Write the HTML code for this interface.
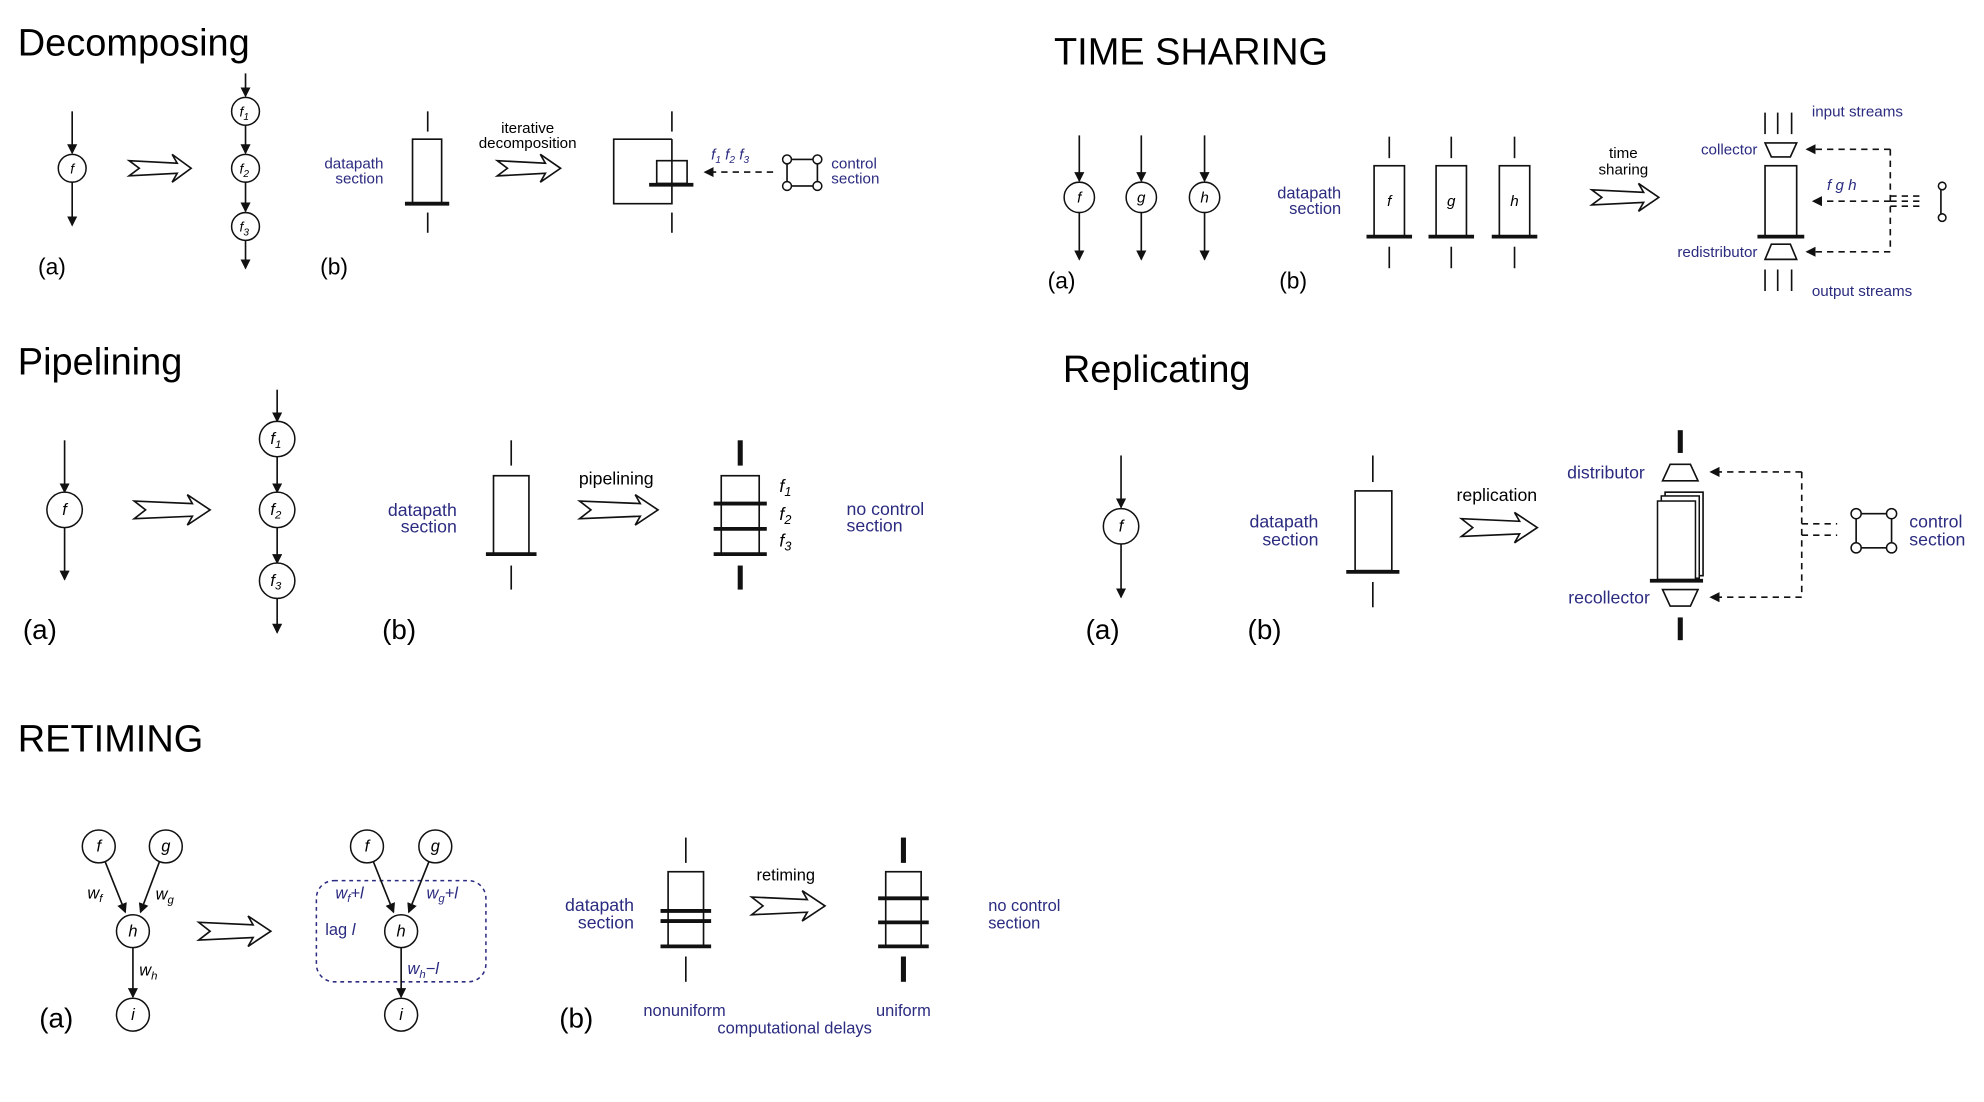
<!DOCTYPE html>
<html><head><meta charset="utf-8"><style>
html,body{margin:0;padding:0;background:#fff;}
svg{display:block;}
text{font-family:"Liberation Sans",sans-serif;}
.t{font-size:30px;fill:#000;}
.b{fill:#2b2b80;}
.l{stroke:#111;stroke-width:1.3;fill:none;}
.n{stroke:#111;stroke-width:1.2;fill:#fff;}
.bar{stroke:#111;stroke-width:3;}
.d{stroke:#111;stroke-width:1.3;stroke-dasharray:5,4;fill:none;}
.ho{stroke:#111;stroke-width:1.3;fill:#fff;}
.it{font-style:italic;}
</style></head><body>
<svg width="1984" height="1102" viewBox="0 0 1568 871" xmlns="http://www.w3.org/2000/svg">
<defs>
<marker id="a" markerWidth="8" markerHeight="8" refX="7" refY="4" orient="auto" markerUnits="userSpaceOnUse">
<path d="M0,0 L8,4 L0,8 Z" fill="#111"/></marker>
</defs>
<rect width="1568" height="871" fill="#fff"/>

<!-- ============ DECOMPOSING ============ -->
<text x="14" y="44" class="t">Decomposing</text>
<line x1="57" y1="88" x2="57" y2="121" class="l" marker-end="url(#a)"/>
<circle cx="57" cy="133" r="11" class="n"/><text x="57" y="137" font-size="11" text-anchor="middle" class="it">f</text>
<line x1="57" y1="144" x2="57" y2="178" class="l" marker-end="url(#a)"/>
<path class="ho" d="M102,127 L140,129 L136,122 L151,133 L136,144 L140,137 L102,139 L110,133 Z"/>
<line x1="194" y1="58" x2="194" y2="76" class="l" marker-end="url(#a)"/>
<circle cx="194" cy="88" r="11" class="n"/><text x="193" y="92" font-size="11" text-anchor="middle" class="it">f<tspan font-size="8" dy="3">1</tspan></text>
<line x1="194" y1="99" x2="194" y2="121" class="l" marker-end="url(#a)"/>
<circle cx="194" cy="133" r="11" class="n"/><text x="193" y="137" font-size="11" text-anchor="middle" class="it">f<tspan font-size="8" dy="3">2</tspan></text>
<line x1="194" y1="144" x2="194" y2="167" class="l" marker-end="url(#a)"/>
<circle cx="194" cy="179" r="11" class="n"/><text x="193" y="183" font-size="11" text-anchor="middle" class="it">f<tspan font-size="8" dy="3">3</tspan></text>
<line x1="194" y1="190" x2="194" y2="212" class="l" marker-end="url(#a)"/>
<text x="30" y="217" font-size="18">(a)</text>
<text x="253" y="217" font-size="18">(b)</text>
<text x="303" y="133" font-size="12" text-anchor="end" class="b">datapath</text>
<text x="303" y="145" font-size="12" text-anchor="end" class="b">section</text>
<line x1="338" y1="88" x2="338" y2="104" class="l" stroke-width="2"/>
<rect x="326" y="110" width="23" height="51" class="l"/>
<line x1="320" y1="161" x2="355" y2="161" class="bar"/>
<line x1="338" y1="168" x2="338" y2="184" class="l" stroke-width="2"/>
<text x="417" y="105" font-size="12" text-anchor="middle">iterative</text>
<text x="417" y="117" font-size="12" text-anchor="middle">decomposition</text>
<path class="ho" d="M393,127 L431,129 L427,122 L443,133 L427,144 L431,137 L393,139 L401,133 Z"/>
<line x1="531" y1="88" x2="531" y2="104" class="l" stroke-width="2"/>
<path d="M531,110 L485,110 L485,161 L531,161 L531,110" class="l"/>
<rect x="519" y="127" width="24" height="18" class="l"/>
<line x1="513" y1="146" x2="548" y2="146" class="bar"/>
<line x1="531" y1="168" x2="531" y2="184" class="l" stroke-width="2"/>
<text x="562" y="126" font-size="12" class="b it">f<tspan font-size="8" dy="3">1</tspan><tspan dy="-3"> f</tspan><tspan font-size="8" dy="3">2</tspan><tspan dy="-3"> f</tspan><tspan font-size="8" dy="3">3</tspan></text>
<line x1="611" y1="136" x2="557" y2="136" class="d" marker-end="url(#a)"/>
<rect x="622" y="126" width="24" height="21" class="l"/>
<circle cx="622" cy="126" r="3.5" class="n"/><circle cx="646" cy="126" r="3.5" class="n"/>
<circle cx="622" cy="147" r="3.5" class="n"/><circle cx="646" cy="147" r="3.5" class="n"/>
<text x="657" y="133" font-size="12" class="b">control</text>
<text x="657" y="145" font-size="12" class="b">section</text>

<!-- ============ TIME SHARING ============ -->
<text x="833" y="51" class="t">TIME SHARING</text>
<g>
<line x1="853" y1="107" x2="853" y2="143" class="l" marker-end="url(#a)"/>
<circle cx="853" cy="156" r="12" class="n"/><text x="853" y="160" font-size="12" text-anchor="middle" class="it">f</text>
<line x1="853" y1="168" x2="853" y2="205" class="l" marker-end="url(#a)"/>
<line x1="902" y1="107" x2="902" y2="143" class="l" marker-end="url(#a)"/>
<circle cx="902" cy="156" r="12" class="n"/><text x="902" y="160" font-size="12" text-anchor="middle" class="it">g</text>
<line x1="902" y1="168" x2="902" y2="205" class="l" marker-end="url(#a)"/>
<line x1="952" y1="107" x2="952" y2="143" class="l" marker-end="url(#a)"/>
<circle cx="952" cy="156" r="12" class="n"/><text x="952" y="160" font-size="12" text-anchor="middle" class="it">h</text>
<line x1="952" y1="168" x2="952" y2="205" class="l" marker-end="url(#a)"/>
</g>
<text x="828" y="228" font-size="18">(a)</text>
<text x="1011" y="228" font-size="18">(b)</text>
<text x="1060" y="157" font-size="13" text-anchor="end" class="b">datapath</text>
<text x="1060" y="169" font-size="13" text-anchor="end" class="b">section</text>
<g>
<line x1="1098" y1="108" x2="1098" y2="125" class="l"/><rect x="1086" y="131" width="24" height="56" class="l"/><line x1="1080" y1="187" x2="1116" y2="187" class="bar"/><line x1="1098" y1="195" x2="1098" y2="212" class="l"/><text x="1098" y="163" font-size="12" text-anchor="middle" class="it">f</text>
<line x1="1147" y1="108" x2="1147" y2="125" class="l"/><rect x="1135" y="131" width="24" height="56" class="l"/><line x1="1129" y1="187" x2="1165" y2="187" class="bar"/><line x1="1147" y1="195" x2="1147" y2="212" class="l"/><text x="1147" y="163" font-size="12" text-anchor="middle" class="it">g</text>
<line x1="1197" y1="108" x2="1197" y2="125" class="l"/><rect x="1185" y="131" width="24" height="56" class="l"/><line x1="1179" y1="187" x2="1215" y2="187" class="bar"/><line x1="1197" y1="195" x2="1197" y2="212" class="l"/><text x="1197" y="163" font-size="12" text-anchor="middle" class="it">h</text>
</g>
<text x="1283" y="125" font-size="12" text-anchor="middle">time</text>
<text x="1283" y="138" font-size="12" text-anchor="middle">sharing</text>
<path class="ho" d="M1258,150 L1299,152 L1295,145 L1311,156 L1295,167 L1299,160 L1258,162 L1266,156 Z"/>
<line x1="1395" y1="89" x2="1395" y2="106" class="l"/><line x1="1405" y1="89" x2="1405" y2="106" class="l"/><line x1="1416" y1="89" x2="1416" y2="106" class="l"/>
<path d="M1395,113 L1420,113 L1415,124 L1400,124 Z" class="l"/>
<rect x="1395" y="131" width="25" height="56" class="l"/>
<line x1="1389" y1="187" x2="1426" y2="187" class="bar"/>
<path d="M1400,193 L1415,193 L1420,205 L1395,205 Z" class="l"/>
<line x1="1395" y1="213" x2="1395" y2="230" class="l"/><line x1="1405" y1="213" x2="1405" y2="230" class="l"/><line x1="1416" y1="213" x2="1416" y2="230" class="l"/>
<text x="1432" y="92" font-size="12" class="b">input streams</text>
<text x="1389" y="122" font-size="12" text-anchor="end" class="b">collector</text>
<text x="1389" y="203" font-size="12" text-anchor="end" class="b">redistributor</text>
<text x="1432" y="234" font-size="12" class="b">output streams</text>
<text x="1444" y="150" font-size="12" class="b it">f  g  h</text>
<line x1="1494" y1="118" x2="1428" y2="118" class="d" marker-end="url(#a)"/>
<line x1="1494" y1="199" x2="1428" y2="199" class="d" marker-end="url(#a)"/>
<line x1="1494" y1="118" x2="1494" y2="199" class="d"/>
<line x1="1494" y1="159" x2="1433" y2="159" class="d" marker-end="url(#a)"/>
<line x1="1494" y1="155" x2="1520" y2="155" class="d" stroke-dasharray="5,2"/>
<line x1="1494" y1="159" x2="1520" y2="159" class="d" stroke-dasharray="5,2"/>
<line x1="1494" y1="163" x2="1520" y2="163" class="d" stroke-dasharray="5,2"/>
<line x1="1534" y1="147" x2="1534" y2="172" class="l" stroke-width="0.8"/>
<circle cx="1535" cy="147" r="3" class="n"/><circle cx="1535" cy="172" r="3" class="n"/>

<!-- ============ PIPELINING ============ -->
<text x="14" y="296" class="t">Pipelining</text>
<line x1="51" y1="348" x2="51" y2="389" class="l" marker-end="url(#a)"/>
<circle cx="51" cy="403" r="14" class="n"/><text x="51" y="407" font-size="13" text-anchor="middle" class="it">f</text>
<line x1="51" y1="417" x2="51" y2="458" class="l" marker-end="url(#a)"/>
<path class="ho" d="M106,396 L152,398 L148,391 L166,403 L148,415 L152,408 L106,410 L115,403 Z"/>
<line x1="219" y1="308" x2="219" y2="333" class="l" marker-end="url(#a)"/>
<circle cx="219" cy="347" r="14" class="n"/><text x="218" y="351" font-size="13" text-anchor="middle" class="it">f<tspan font-size="9" dy="3">1</tspan></text>
<line x1="219" y1="361" x2="219" y2="389" class="l" marker-end="url(#a)"/>
<circle cx="219" cy="403" r="14" class="n"/><text x="218" y="407" font-size="13" text-anchor="middle" class="it">f<tspan font-size="9" dy="3">2</tspan></text>
<line x1="219" y1="417" x2="219" y2="445" class="l" marker-end="url(#a)"/>
<circle cx="219" cy="459" r="14" class="n"/><text x="218" y="463" font-size="13" text-anchor="middle" class="it">f<tspan font-size="9" dy="3">3</tspan></text>
<line x1="219" y1="473" x2="219" y2="500" class="l" marker-end="url(#a)"/>
<text x="18" y="505" font-size="22">(a)</text>
<text x="302" y="505" font-size="22">(b)</text>
<text x="361" y="408" font-size="14" text-anchor="end" class="b">datapath</text>
<text x="361" y="421" font-size="14" text-anchor="end" class="b">section</text>
<line x1="404" y1="348" x2="404" y2="368" class="l" stroke-width="2"/>
<rect x="390" y="376" width="28" height="62" class="l"/>
<line x1="384" y1="438" x2="424" y2="438" class="bar"/>
<line x1="404" y1="447" x2="404" y2="466" class="l" stroke-width="2"/>
<text x="487" y="383" font-size="14" text-anchor="middle">pipelining</text>
<path class="ho" d="M458,396 L506,398 L502,391 L520,403 L502,415 L506,408 L458,410 L467,403 Z"/>
<line x1="585" y1="348" x2="585" y2="368" stroke="#111" stroke-width="4"/>
<rect x="570" y="376" width="30" height="62" class="l"/>
<line x1="564" y1="398" x2="606" y2="398" class="bar"/>
<line x1="564" y1="418" x2="606" y2="418" class="bar"/>
<line x1="564" y1="438" x2="606" y2="438" class="bar"/>
<line x1="585" y1="447" x2="585" y2="466" stroke="#111" stroke-width="4"/>
<text x="616" y="389" font-size="14" class="it">f<tspan font-size="10" dy="3">1</tspan></text>
<text x="616" y="411" font-size="14" class="it">f<tspan font-size="10" dy="3">2</tspan></text>
<text x="616" y="432" font-size="14" class="it">f<tspan font-size="10" dy="3">3</tspan></text>
<text x="669" y="407" font-size="14" class="b">no control</text>
<text x="669" y="420" font-size="14" class="b">section</text>

<!-- ============ REPLICATING ============ -->
<text x="840" y="302" class="t">Replicating</text>
<line x1="886" y1="360" x2="886" y2="401" class="l" marker-end="url(#a)"/>
<circle cx="886" cy="416" r="14" class="n"/><text x="886" y="420" font-size="13" text-anchor="middle" class="it">f</text>
<line x1="886" y1="430" x2="886" y2="472" class="l" marker-end="url(#a)"/>
<text x="858" y="505" font-size="22">(a)</text>
<text x="986" y="505" font-size="22">(b)</text>
<text x="1042" y="417" font-size="14" text-anchor="end" class="b">datapath</text>
<text x="1042" y="431" font-size="14" text-anchor="end" class="b">section</text>
<line x1="1085" y1="360" x2="1085" y2="381" class="l" stroke-width="2.5"/>
<rect x="1071" y="388" width="29" height="63" class="l"/>
<line x1="1064" y1="452" x2="1106" y2="452" class="bar"/>
<line x1="1085" y1="460" x2="1085" y2="480" class="l" stroke-width="2.5"/>
<text x="1183" y="396" font-size="14" text-anchor="middle">replication</text>
<path class="ho" d="M1155,410 L1201,412 L1197,405 L1215,417 L1197,429 L1201,422 L1155,424 L1164,417 Z"/>
<line x1="1328" y1="340" x2="1328" y2="358" stroke="#111" stroke-width="4"/>
<path d="M1320,367 L1336,367 L1342,380 L1314,380 Z" class="l"/>
<rect x="1316" y="389" width="30" height="66" class="l"/>
<rect x="1313" y="392" width="30" height="65" class="n"/>
<rect x="1310" y="396" width="30" height="62" class="n"/>
<line x1="1304" y1="459" x2="1346" y2="459" class="bar"/>
<path d="M1314,466 L1342,466 L1336,479 L1320,479 Z" class="l"/>
<line x1="1328" y1="488" x2="1328" y2="506" stroke="#111" stroke-width="4"/>
<text x="1300" y="378" font-size="14" text-anchor="end" class="b">distributor</text>
<text x="1304" y="477" font-size="14" text-anchor="end" class="b">recollector</text>
<line x1="1424" y1="373" x2="1352" y2="373" class="d" marker-end="url(#a)"/>
<line x1="1424" y1="472" x2="1352" y2="472" class="d" marker-end="url(#a)"/>
<line x1="1424" y1="373" x2="1424" y2="472" class="d"/>
<line x1="1424" y1="414" x2="1452" y2="414" class="d" stroke-dasharray="7,4"/>
<line x1="1424" y1="423" x2="1452" y2="423" class="d" stroke-dasharray="7,4"/>
<rect x="1467" y="406" width="28" height="27" class="l"/>
<circle cx="1467" cy="406" r="4" class="n"/><circle cx="1495" cy="406" r="4" class="n"/>
<circle cx="1467" cy="433" r="4" class="n"/><circle cx="1495" cy="433" r="4" class="n"/>
<text x="1509" y="417" font-size="14" class="b">control</text>
<text x="1509" y="431" font-size="14" class="b">section</text>

<!-- ============ RETIMING ============ -->
<text x="14" y="594" class="t">RETIMING</text>
<g>
<circle cx="78" cy="669" r="13" class="n"/><text x="78" y="673" font-size="13" text-anchor="middle" class="it">f</text>
<circle cx="131" cy="669" r="13" class="n"/><text x="131" y="673" font-size="13" text-anchor="middle" class="it">g</text>
<line x1="83" y1="681" x2="99" y2="721" class="l" marker-end="url(#a)"/>
<line x1="126" y1="681" x2="111" y2="721" class="l" marker-end="url(#a)"/>
<circle cx="105" cy="736" r="13" class="n"/><text x="105" y="740" font-size="13" text-anchor="middle" class="it">h</text>
<line x1="105" y1="749" x2="105" y2="788" class="l" marker-end="url(#a)"/>
<circle cx="105" cy="802" r="13" class="n"/><text x="105" y="806" font-size="13" text-anchor="middle" class="it">i</text>
<text x="69" y="710" font-size="13" class="it">w<tspan font-size="9" dy="3">f</tspan></text>
<text x="123" y="711" font-size="13" class="it">w<tspan font-size="9" dy="3">g</tspan></text>
<text x="110" y="771" font-size="13" class="it">w<tspan font-size="9" dy="3">h</tspan></text>
</g>
<text x="31" y="812" font-size="22">(a)</text>
<path class="ho" d="M157,729 L200,731 L196,724 L214,736 L196,748 L200,741 L157,743 L166,736 Z"/>
<g>
<rect x="250" y="696" width="134" height="80" rx="14" fill="none" stroke="#2b2b80" stroke-width="1.2" stroke-dasharray="3,3"/>
<circle cx="290" cy="669" r="13" class="n"/><text x="290" y="673" font-size="13" text-anchor="middle" class="it">f</text>
<circle cx="344" cy="669" r="13" class="n"/><text x="344" y="673" font-size="13" text-anchor="middle" class="it">g</text>
<line x1="295" y1="681" x2="311" y2="721" class="l" marker-end="url(#a)"/>
<line x1="339" y1="681" x2="323" y2="721" class="l" marker-end="url(#a)"/>
<circle cx="317" cy="736" r="13" class="n"/><text x="317" y="740" font-size="13" text-anchor="middle" class="it">h</text>
<line x1="317" y1="749" x2="317" y2="788" class="l" marker-end="url(#a)"/>
<circle cx="317" cy="802" r="13" class="n"/><text x="317" y="806" font-size="13" text-anchor="middle" class="it">i</text>
<text x="265" y="710" font-size="13" class="b it">w<tspan font-size="9" dy="3">f</tspan><tspan dy="-3">+l</tspan></text>
<text x="337" y="710" font-size="13" class="b it">w<tspan font-size="9" dy="3">g</tspan><tspan dy="-3">+l</tspan></text>
<text x="257" y="739" font-size="13" class="b">lag <tspan class="it">l</tspan></text>
<text x="322" y="770" font-size="13" class="b it">w<tspan font-size="9" dy="3">h</tspan><tspan dy="-3">−l</tspan></text>
</g>
<text x="442" y="812" font-size="22">(b)</text>
<text x="501" y="720" font-size="14" text-anchor="end" class="b">datapath</text>
<text x="501" y="734" font-size="14" text-anchor="end" class="b">section</text>
<line x1="542" y1="662" x2="542" y2="682" class="l" stroke-width="2"/>
<rect x="528" y="689" width="28" height="59" class="l"/>
<line x1="522" y1="720" x2="562" y2="720" class="bar"/>
<line x1="522" y1="728" x2="562" y2="728" class="bar"/>
<line x1="522" y1="748" x2="562" y2="748" class="bar"/>
<line x1="542" y1="756" x2="542" y2="776" class="l" stroke-width="2"/>
<text x="621" y="696" font-size="13" text-anchor="middle">retiming</text>
<path class="ho" d="M594,709 L638,711 L634,704 L652,716 L634,728 L638,721 L594,723 L603,716 Z"/>
<line x1="714" y1="662" x2="714" y2="682" stroke="#111" stroke-width="4"/>
<rect x="700" y="689" width="28" height="59" class="l"/>
<line x1="694" y1="710" x2="734" y2="710" class="bar"/>
<line x1="694" y1="729" x2="734" y2="729" class="bar"/>
<line x1="694" y1="748" x2="734" y2="748" class="bar"/>
<line x1="714" y1="756" x2="714" y2="776" stroke="#111" stroke-width="4"/>
<text x="781" y="720" font-size="13" class="b">no control</text>
<text x="781" y="734" font-size="13" class="b">section</text>
<text x="541" y="803" font-size="13" text-anchor="middle" class="b">nonuniform</text>
<text x="714" y="803" font-size="13" text-anchor="middle" class="b">uniform</text>
<text x="628" y="817" font-size="13" text-anchor="middle" class="b">computational delays</text>
</svg>
</body></html>
